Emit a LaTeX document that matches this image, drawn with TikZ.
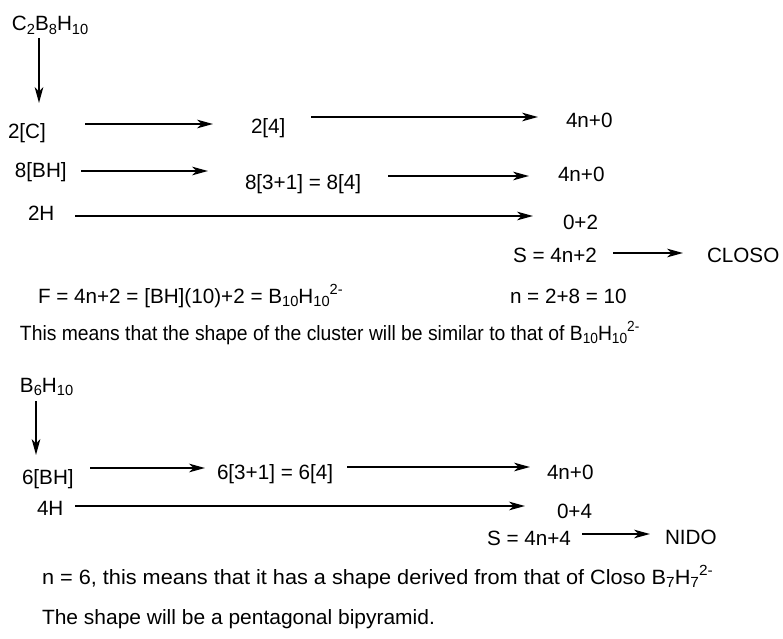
\documentclass[tikz,border=0pt]{standalone}
\usepackage{fontspec}
\setmainfont{Liberation Sans}
\usetikzlibrary{arrows.meta,calc}
\newcommand{\sbs}[1]{\raisebox{-2.6pt}{\fontsize{11}{11}\selectfont #1}}
\newcommand{\sps}[1]{\raisebox{6.5pt}{\fontsize{11}{11}\selectfont #1}}
\tikzset{
  txt/.style={anchor=base west, inner sep=0pt, outer sep=0pt, font=\fontsize{15.5}{18}\selectfont},
  arr/.style={line width=1.5pt, -{Stealth[length=12pt, width=6.5pt, inset=3.5pt]}}
}
\begin{document}
\begin{tikzpicture}[x=0.75pt,y=-0.75pt]
\useasboundingbox (0,0) rectangle (783,639);
% part 1
\node[txt] (c2b8) at (12,31) {C\sbs{2}B\sbs{8}H\sbs{10}};
\node[txt] (c2) at (8,138) {2[C]};
\node[txt] (t24) at (251,133) {2[4]};
\node[txt] (r1) at (566,127) {4n+0};
\node[txt] (bh8) at (15,177) {8[BH]};
\node[txt] (t8) at (245,189) {8[3+1] = 8[4]};
\node[txt] (r2) at (558,181) {4n+0};
\node[txt] (h2) at (28,220) {2H};
\node[txt] (r3) at (563,229) {0+2};
\node[txt] (s1) at (513,262) {S = 4n+2};
\node[txt] (closo) at (707,262) {CLOSO};
\node[txt] (f) at (38,303) {F = 4n+2 = [BH](10)+2 = B\sbs{10}H\sbs{10}\sps{2-}};
\node[txt] (n1) at (510,303) {n = 2+8 = 10};
\node[txt] (this) at (20,340) {\scalebox{0.935}[1]{This means that the shape of the cluster will be similar to that of B\sbs{10}H\sbs{10}\sps{2-}}};
% part 2
\node[txt] (b6) at (20,392) {B\sbs{6}H\sbs{10}};
\node[txt] (bh6) at (22,484) {6[BH]};
\node[txt] (t6) at (217,479) {6[3+1] = 6[4]};
\node[txt] (r4) at (547,479) {4n+0};
\node[txt] (h4) at (37,515) {4H};
\node[txt] (r5) at (557,518) {0+4};
\node[txt] (s2) at (487,545) {S = 4n+4};
\node[txt] (nido) at (665,544) {NIDO};
\node[txt] (n6) at (42,584) {\scalebox{1.05}[1]{n = 6, this means that it has a shape derived from that of Closo B\sbs{7}H\sbs{7}\sps{2-}}};
\node[txt] (shape) at (42,624) {\scalebox{1.015}[1]{The shape will be a pentagonal bipyramid.}};
% arrows part 1
\draw[arr] ($(c2b8.base west)+(27,7)$) -- ($(c2.base west)+(31,-35)$);
\draw[arr] ($(c2.base west)+(77,-14)$) -- ($(t24.base west)+(-38,-9)$);
\draw[arr] ($(t24.base west)+(60,-16)$) -- ($(r1.base west)+(-28,-10)$);
\draw[arr] ($(bh8.base west)+(66,-6)$) -- ($(t8.base west)+(-37,-18)$);
\draw[arr] ($(t8.base west)+(143,-13)$) -- ($(r2.base west)+(-29,-5)$);
\draw[arr] ($(h2.base west)+(47,-4)$) -- ($(r3.base west)+(-30,-13)$);
\draw[arr] ($(s1.base west)+(100,-9)$) -- ($(closo.base west)+(-24,-9)$);
% arrows part 2
\draw[arr] ($(b6.base west)+(16,9)$) -- ($(bh6.base west)+(14,-29)$);
\draw[arr] ($(bh6.base west)+(68,-16)$) -- ($(t6.base west)+(-12,-11)$);
\draw[arr] ($(t6.base west)+(130,-12)$) -- ($(r4.base west)+(-17,-12)$);
\draw[arr] ($(h4.base west)+(38,-9)$) -- ($(r5.base west)+(-32,-12)$);
\draw[arr] ($(s2.base west)+(95,-11)$) -- ($(nido.base west)+(-15,-10)$);
\end{tikzpicture}
\end{document}
